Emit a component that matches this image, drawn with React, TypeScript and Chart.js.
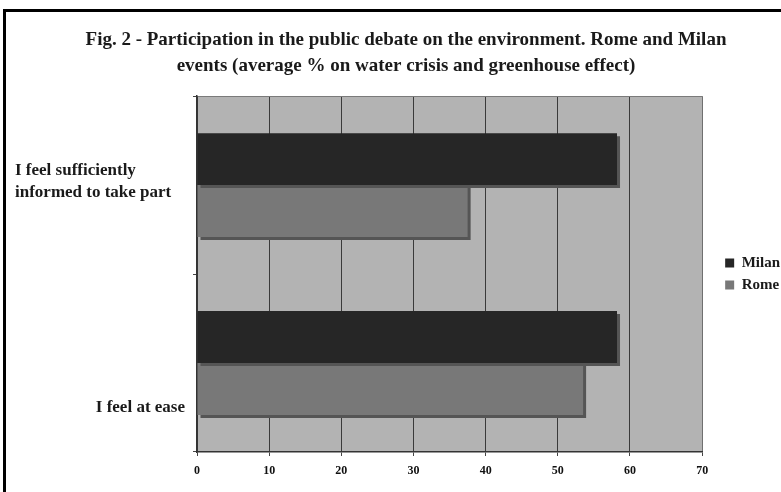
import React, { useEffect, useRef } from "react";
import { Chart, registerables } from "chart.js";

Chart.register(...registerables);

// ---- data ----
const categoryLines: string[][] = [
  ["I feel sufficiently", "informed to take part"],
  ["I feel at ease"],
];
const seriesNames = ["Milan", "Rome"];
const milanValues = [58.2, 58.2];
const romeValues = [37.5, 53.5];
const titleLines = [
  "Fig. 2 - Participation in the public debate on the environment. Rome and Milan",
  "events (average % on water crisis and greenhouse effect)",
];
const xMin = 0;
const xMax = 70;
const xStep = 10;

// ---- styling ----
const SERIF = "'Liberation Serif', 'Times New Roman', serif";
const MILAN_COLOR = "#262626";
const ROME_COLOR = "#787878";
const PLOT_BG = "#b3b3b3";
const SHADOW = "#555555";
const CANVAS_W = 800;
const CANVAS_H = 492;

// grey plot background
const plotBackground = {
  id: "plotBackground",
  beforeDraw(chart: any) {
    const { ctx, chartArea: a } = chart;
    ctx.save();
    ctx.fillStyle = PLOT_BG;
    ctx.fillRect(a.left, a.top, a.right - a.left, a.bottom - a.top);
    ctx.restore();
  },
};

// hard drop shadow under every bar
const barShadow = {
  id: "barShadow",
  beforeDatasetsDraw(chart: any) {
    const ctx = chart.ctx;
    ctx.save();
    ctx.shadowColor = SHADOW;
    ctx.shadowOffsetX = 3;
    ctx.shadowOffsetY = 3;
    ctx.shadowBlur = 0;
  },
  afterDatasetsDraw(chart: any) {
    chart.ctx.restore();
  },
};

// category captions on the left
const categoryCaptions = {
  id: "categoryCaptions",
  afterDraw(chart: any) {
    const { ctx, chartArea } = chart;
    const y = chart.scales.y;
    ctx.save();
    ctx.font = `bold 17px ${SERIF}`;
    ctx.fillStyle = "#1a1a1a";
    ctx.textBaseline = "middle";
    const c0 = y.getPixelForValue(0);
    ctx.textAlign = "left";
    categoryLines[0].forEach((line, i) => ctx.fillText(line, 15, c0 - 15 + i * 22));
    const c1 = y.getPixelForValue(1);
    ctx.textAlign = "right";
    categoryLines[1].forEach((line, i) =>
      ctx.fillText(line, chartArea.left - 12, c1 + 45 + i * 22)
    );
    ctx.restore();
  },
};

export default function App() {
  const canvasRef = useRef<HTMLCanvasElement | null>(null);

  useEffect(() => {
    if (!canvasRef.current) return;
    const chart = new Chart(canvasRef.current, {
      type: "bar",
      data: {
        labels: categoryLines.map((l) => l.join(" ")),
        datasets: [
          {
            label: seriesNames[0],
            data: milanValues,
            backgroundColor: MILAN_COLOR,
            borderWidth: 0,
            yAxisID: "y",
          },
          {
            label: seriesNames[1],
            data: romeValues,
            backgroundColor: ROME_COLOR,
            borderWidth: 0,
            yAxisID: "y",
          },
        ],
      },
      options: {
        indexAxis: "y",
        animation: false,
        responsive: true,
        maintainAspectRatio: false,
        datasets: {
          bar: { categoryPercentage: 0.584, barPercentage: 1 },
        },
        layout: { padding: { left: 22, right: 10, top: 0, bottom: 16 } },
        scales: {
          x: {
            type: "linear",
            min: xMin,
            max: xMax,
            ticks: {
              stepSize: xStep,
              color: "#111",
              padding: 8,
              font: { family: SERIF, size: 12, weight: "bold" },
            },
            grid: {
              color: (c: any) => (c.tick && c.tick.value === xMax ? "#707070" : "#3a3a3a"),
              lineWidth: 1,
              tickLength: 4,
              tickColor: "#444",
            },
            border: { display: true, color: "#333", width: 1.5 },
            afterFit: (s: any) => {
              s.height = 24;
            },
          },
          y: {
            type: "category",
            position: "left",
            offset: true,
            ticks: { display: false },
            grid: {
              offset: true,
              drawOnChartArea: true,
              color: (c: any) => (c.index === 0 ? "#7a7a7a" : "rgba(0,0,0,0)"),
              tickColor: "#444",
              tickLength: 4,
            },
            border: { display: true, color: "#333", width: 1.5 },
            afterFit: (s: any) => {
              s.width = 175;
            },
          },
          gap: {
            type: "category",
            axis: "y",
            position: "right",
            labels: categoryLines.map((l) => l.join(" ")),
            ticks: { display: false },
            grid: { display: false },
            border: { display: false },
            afterFit: (s: any) => {
              s.width = 16;
            },
          },
        },
        plugins: {
          legend: {
            position: "right",
            fullSize: false,
            labels: {
              boxWidth: 9,
              boxHeight: 9,
              padding: 7,
              color: "#1a1a1a",
              font: { family: SERIF, size: 15, weight: "bold" },
            },
          },
          title: {
            display: true,
            text: titleLines,
            color: "#1a1a1a",
            font: { family: SERIF, size: 19, weight: "bold", lineHeight: 1.32 },
            padding: { top: 28, bottom: 18 },
          },
          tooltip: { enabled: false },
        },
      },
      plugins: [plotBackground, barShadow, categoryCaptions],
    });
    return () => chart.destroy();
  }, []);

  return (
    <div
      style={{
        position: "fixed",
        left: 0,
        top: 0,
        width: 781,
        height: 492,
        overflow: "hidden",
        background: "#fff",
      }}
    >
      <div
        style={{
          position: "absolute",
          left: 3,
          top: 9,
          width: 900,
          height: 600,
          border: "3px solid #000",
        }}
      />
      <div style={{ position: "absolute", left: 0, top: 0, width: CANVAS_W, height: CANVAS_H }}>
        <canvas ref={canvasRef} />
      </div>
    </div>
  );
}
